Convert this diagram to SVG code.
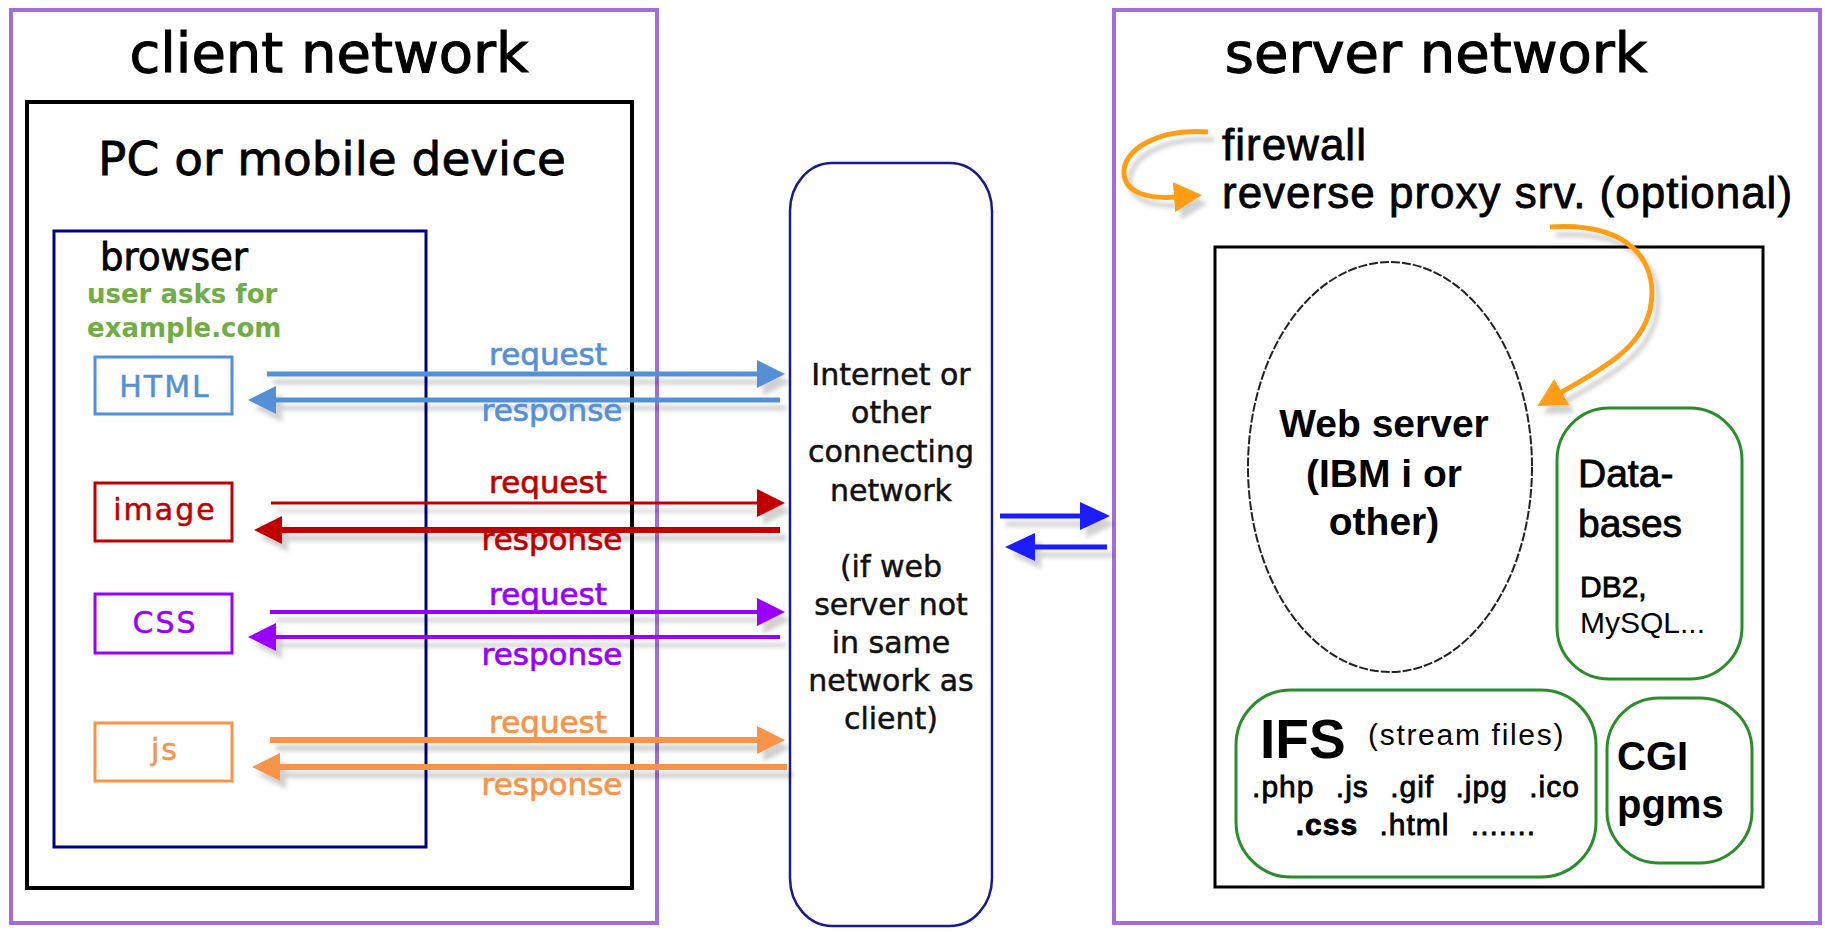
<svg xmlns="http://www.w3.org/2000/svg" width="1825" height="932" viewBox="0 0 1825 932">
  <style>
    .net { fill: #fff; stroke: #a070d8; stroke-width: 4; }
    .blk { fill: none; stroke: #000; stroke-width: 4; }
    .title { font-family: "DejaVu Sans", sans-serif; font-size: 56px; fill: #000; text-anchor: middle; stroke: #000; stroke-width: 1.1px; }
    .dv { font-family: "DejaVu Sans", sans-serif; }
    .ls { font-family: "Liberation Sans", Arial, sans-serif; }
    .heavy { stroke: #000; stroke-width: 0.8px; }
    .lbl { font-family: "DejaVu Sans", sans-serif; font-size: 31px; text-anchor: middle; stroke-width: 0.7px; }
    .ftype { fill: #fff; stroke-width: 3; }
    .ftxt { font-family: "DejaVu Sans", sans-serif; font-size: 30px; text-anchor: middle; letter-spacing: 2px; stroke-width: 0.5px; }
    .grn { fill: none; stroke: #2a8c2a; stroke-width: 3; }
    .ora { fill: none; stroke: #ff9d12; stroke-width: 5; }
  </style>
  <defs>
    <filter id="shade" x="-5%" y="-50%" width="110%" height="250%">
      <feDropShadow dx="6" dy="8" stdDeviation="2" flood-color="#000" flood-opacity="0.18"/>
    </filter>
    <marker id="hBlue" markerUnits="userSpaceOnUse" markerWidth="28" markerHeight="28" refX="2" refY="14" orient="auto">
      <path d="M0,0 L28,14 L0,28 z" fill="#5590d6"/>
    </marker>
    <marker id="hRed" markerUnits="userSpaceOnUse" markerWidth="28" markerHeight="28" refX="2" refY="14" orient="auto">
      <path d="M0,0 L28,14 L0,28 z" fill="#c00000"/>
    </marker>
    <marker id="hPurple" markerUnits="userSpaceOnUse" markerWidth="28" markerHeight="28" refX="2" refY="14" orient="auto">
      <path d="M0,0 L28,14 L0,28 z" fill="#9a00ff"/>
    </marker>
    <marker id="hOrange" markerUnits="userSpaceOnUse" markerWidth="28" markerHeight="28" refX="2" refY="14" orient="auto">
      <path d="M0,0 L28,14 L0,28 z" fill="#f7944a"/>
    </marker>
    <marker id="hLink" markerUnits="userSpaceOnUse" markerWidth="30" markerHeight="28" refX="2" refY="14" orient="auto">
      <path d="M0,0 L30,14 L0,28 z" fill="#1a1aff"/>
    </marker>
    <marker id="hCurve" markerUnits="userSpaceOnUse" markerWidth="30" markerHeight="30" refX="2" refY="15" orient="auto">
      <path d="M0,0 L28,15 L0,30 z" fill="#ff9d12"/>
    </marker>
  </defs>

  <!-- client side -->
  <g id="client-network">
    <rect class="net" x="11" y="10" width="646" height="913"/>
    <text class="title" x="329" y="72">client network</text>
  </g>
  <g id="pc-device">
    <rect class="blk" x="27" y="102" width="605" height="786"/>
    <text class="dv heavy" x="332" y="175" font-size="47" text-anchor="middle" stroke-width="1">PC or mobile device</text>
  </g>
  <g id="browser">
    <rect x="54" y="231" width="372" height="616" fill="none" stroke="#000080" stroke-width="3"/>
    <text class="dv heavy" x="100" y="270" font-size="37" stroke-width="0.6">browser</text>
    <text class="dv" x="87" y="303" font-size="26" font-weight="bold" fill="#70ad47">user asks for</text>
    <text class="dv" x="87" y="337" font-size="26" font-weight="bold" fill="#70ad47">example.com</text>
  </g>
  <g id="html">
    <rect class="ftype" x="95" y="357" width="137" height="57" stroke="#5590d6"/>
    <text class="ftxt" x="165" y="397" fill="#5590d6" stroke="#5590d6">HTML</text>
  </g>
  <g id="image">
    <rect class="ftype" x="95" y="483" width="137" height="58" stroke="#c00000"/>
    <text class="ftxt" x="165" y="520" fill="#c00000" stroke="#c00000">image</text>
  </g>
  <g id="css">
    <rect class="ftype" x="95" y="594" width="137" height="59" stroke="#9a00ff"/>
    <text class="ftxt" x="165" y="633" fill="#9a00ff" stroke="#9a00ff">CSS</text>
  </g>
  <g id="js">
    <rect class="ftype" x="95" y="723" width="137" height="58" stroke="#f7944a"/>
    <text class="ftxt" x="165" y="760" fill="#f7944a" stroke="#f7944a">js</text>
  </g>

  <!-- network in between -->
  <g id="internet">
    <rect x="790" y="163" width="202" height="763" rx="42" ry="48" fill="#fff" stroke="#1a1a8c" stroke-width="2.5"/>
    <g class="dv" font-size="30" text-anchor="middle" fill="#111" stroke="#111" stroke-width="0.5">
      <text x="891" y="385">Internet or</text>
      <text x="891" y="423">other</text>
      <text x="891" y="462">connecting</text>
      <text x="891" y="501">network</text>
      <text x="891" y="577">(if web</text>
      <text x="891" y="615">server not</text>
      <text x="891" y="653">in same</text>
      <text x="891" y="691">network as</text>
      <text x="891" y="729">client)</text>
    </g>
  </g>

  <!-- server side -->
  <g id="server-network">
    <rect class="net" x="1114" y="10" width="706" height="913"/>
    <text class="title" x="1436" y="72">server network</text>
    <text class="ls heavy" x="1222" y="160" font-size="44" letter-spacing="1">firewall</text>
    <text class="ls heavy" x="1222" y="208" font-size="44" letter-spacing="1">reverse proxy srv. (optional)</text>
  </g>
  <g id="server-host">
    <rect x="1215" y="247" width="548" height="640" fill="none" stroke="#000" stroke-width="3"/>
  </g>
  <g id="web-server">
    <ellipse cx="1390" cy="467" rx="142" ry="205" fill="none" stroke="#222" stroke-width="2" stroke-dasharray="9 2"/>
    <g class="ls" font-size="39" font-weight="bold" text-anchor="middle">
      <text x="1384" y="437">Web server</text>
      <text x="1384" y="487">(IBM i or</text>
      <text x="1384" y="535">other)</text>
    </g>
  </g>
  <g id="databases">
    <rect class="grn" x="1557" y="408" width="185" height="271" rx="52" ry="52"/>
    <text class="ls heavy" x="1578" y="487" font-size="39" stroke-width="0.6">Data-</text>
    <text class="ls heavy" x="1578" y="537" font-size="39" stroke-width="0.6">bases</text>
    <text class="ls heavy" x="1580" y="597" font-size="30" stroke-width="0.6">DB2,</text>
    <text class="ls" x="1580" y="633" font-size="30">MySQL...</text>
  </g>
  <g id="ifs">
    <rect class="grn" x="1236" y="690" width="360" height="187" rx="55" ry="55"/>
    <text class="ls" x="1260" y="758" font-size="55" font-weight="bold">IFS</text>
    <text class="ls" x="1368" y="745" font-size="30" letter-spacing="1.7">(stream files)</text>
    <text class="ls heavy" x="1416" y="797" font-size="30" text-anchor="middle" letter-spacing="1" word-spacing="12" stroke-width="0.5">.php .js .gif .jpg .ico</text>
    <text class="ls heavy" x="1416" y="835" font-size="30" text-anchor="middle" letter-spacing="1" word-spacing="12" stroke-width="0.5"><tspan font-weight="bold">.css</tspan> .html .......</text>
  </g>
  <g id="cgi">
    <rect class="grn" x="1607" y="698" width="145" height="165" rx="52" ry="52"/>
    <text class="ls" x="1617" y="770" font-size="40" font-weight="bold">CGI</text>
    <text class="ls" x="1617" y="818" font-size="40" font-weight="bold">pgms</text>
  </g>

  <!-- connectors -->
  <g id="connectors">
    <g filter="url(#shade)" fill="none">
      <line x1="267" y1="374" x2="759" y2="374" stroke="#5590d6" stroke-width="5" marker-end="url(#hBlue)"/>
      <line x1="780" y1="400" x2="274" y2="400" stroke="#5590d6" stroke-width="5" marker-end="url(#hBlue)"/>
      <line x1="271" y1="503" x2="759" y2="503" stroke="#c00000" stroke-width="3" marker-end="url(#hRed)"/>
      <line x1="780" y1="530" x2="280" y2="530" stroke="#c00000" stroke-width="6" marker-end="url(#hRed)"/>
      <line x1="270" y1="612" x2="759" y2="612" stroke="#9a00ff" stroke-width="4" marker-end="url(#hPurple)"/>
      <line x1="780" y1="637" x2="274" y2="637" stroke="#9a00ff" stroke-width="4" marker-end="url(#hPurple)"/>
      <line x1="270" y1="740" x2="759" y2="740" stroke="#f7944a" stroke-width="6" marker-end="url(#hOrange)"/>
      <line x1="787" y1="767" x2="278" y2="767" stroke="#f7944a" stroke-width="6" marker-end="url(#hOrange)"/>
      <line x1="1000" y1="516" x2="1082" y2="516" stroke="#1a1aff" stroke-width="5" marker-end="url(#hLink)"/>
      <line x1="1107" y1="547" x2="1033" y2="547" stroke="#1a1aff" stroke-width="5" marker-end="url(#hLink)"/>
      <path class="ora" d="M1208,132 C1158,128 1122,150 1124,174 C1126,194 1150,199 1176,197" marker-end="url(#hCurve)"/>
      <path class="ora" d="M1550,227 C1630,222 1660,262 1650,310 C1640,350 1600,370 1560,393" marker-end="url(#hCurve)"/>
    </g>
    <g class="lbl">
      <text x="548" y="365" fill="#5590d6" stroke="#5590d6">request</text>
      <text x="552" y="421" fill="#5590d6" stroke="#5590d6">response</text>
      <text x="548" y="493" fill="#c00000" stroke="#c00000">request</text>
      <text x="552" y="550" fill="#c00000" stroke="#c00000">response</text>
      <text x="548" y="605" fill="#9a00ff" stroke="#9a00ff">request</text>
      <text x="552" y="665" fill="#9a00ff" stroke="#9a00ff">response</text>
      <text x="548" y="733" fill="#f7944a" stroke="#f7944a">request</text>
      <text x="552" y="795" fill="#f7944a" stroke="#f7944a">response</text>
    </g>
  </g>
</svg>
